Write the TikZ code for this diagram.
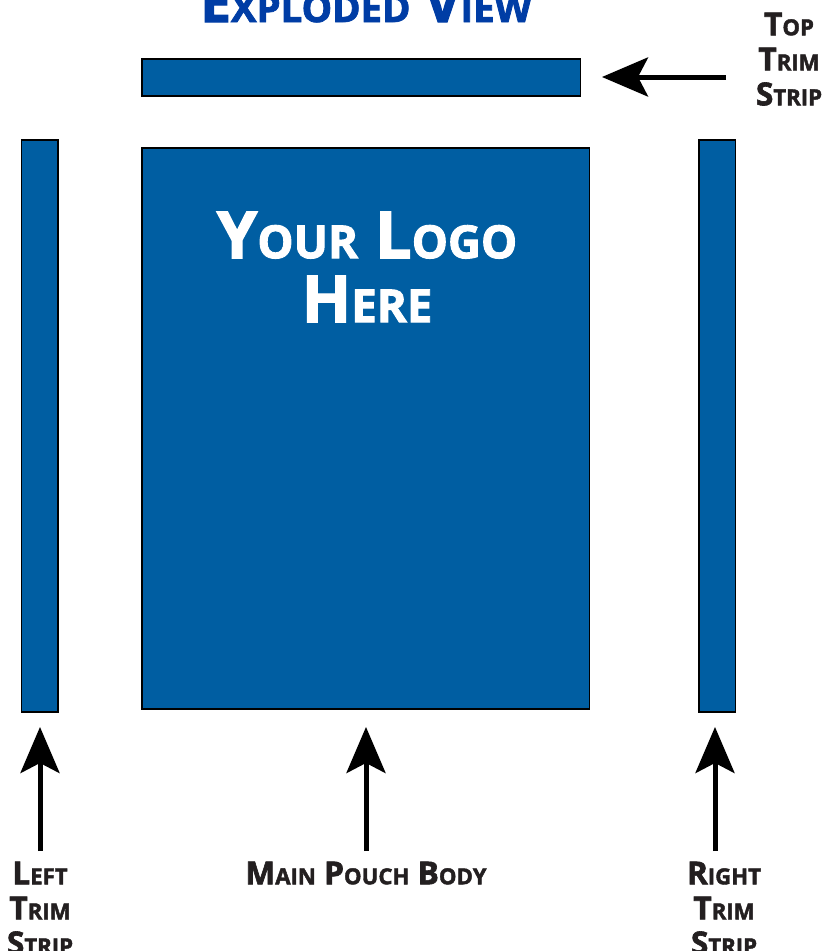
\documentclass[tikz,border=0pt]{standalone}
\usepackage{fontspec}
\usepackage{tikz}
\usetikzlibrary{arrows.meta}
\setmainfont{Open Sans}[BoldFeatures={FakeBold=2}]
\definecolor{pouchblue}{RGB}{0,94,162}
\definecolor{titleblue}{RGB}{0,61,165}
\definecolor{labelblack}{RGB}{35,31,32}
\newcommand{\capword}[2]{#1\scalebox{0.7}{#2}}
\tikzset{
  panel/.style={fill=pouchblue, draw=black, line width=0.3pt},
  pointer/.style={-{Stealth[length=46*0.01cm, width=39*0.01cm, inset=10*0.01cm]}, black, line width=5*0.01cm},
  partlabel/.style={font=\bfseries\fontsize{9}{9.95}\selectfont, text=labelblack, align=center, inner sep=0pt, anchor=north},
}
\begin{document}
\begin{tikzpicture}[x=0.01cm,y=-0.01cm]
    \useasboundingbox (0,0) rectangle (833,951);
    % the four panels, pixel positions
    \draw[panel] (142,59) rectangle (580.5,96);
    \draw[panel] (142,148) rectangle (589.5,709);
    \draw[panel] (21.5,140) rectangle (58,712);
    \draw[panel] (699,140) rectangle (735.5,712);
    % heading and logo text
    \node[font=\bfseries\fontsize{15.6}{17}\selectfont, text=titleblue, inner sep=0pt, anchor=base] (title) at (366,22)
      {\capword{E}{XPLODED} \capword{V}{IEW}};
    \node[font=\bfseries\fontsize{18.5}{18.2}\selectfont, text=white, align=center, inner sep=0pt, anchor=north] (logo) at (367,211)
      {\capword{Y}{OUR} \capword{L}{OGO}\\\capword{H}{ERE}};
    % labels
    \node[partlabel] (toplabel) at (789,12) {\capword{T}{OP}\\\capword{T}{RIM}\\\capword{S}{TRIP}};
    \node[partlabel] (leftlabel) at (40,861) {\capword{L}{EFT}\\\capword{T}{RIM}\\\capword{S}{TRIP}};
    \node[partlabel] (mainlabel) at (366,861) {\capword{M}{AIN} \capword{P}{OUCH} \capword{B}{ODY}};
    \node[partlabel] (rightlabel) at (724,861) {\capword{R}{IGHT}\\\capword{T}{RIM}\\\capword{S}{TRIP}};
    % arrows
    \coordinate (toptail) at (726,77);
    \coordinate (toptip) at (602,77);
    \coordinate (lefttail) at (40,851);
    \coordinate (lefttip) at (40,727);
    \coordinate (maintail) at (366,851);
    \coordinate (maintip) at (366,727);
    \coordinate (righttail) at (715,851);
    \coordinate (righttip) at (715,727);
    \foreach \part in {top,left,main,right}
      \draw[pointer] (\part tail) -- (\part tip);
\end{tikzpicture}
\end{document}
